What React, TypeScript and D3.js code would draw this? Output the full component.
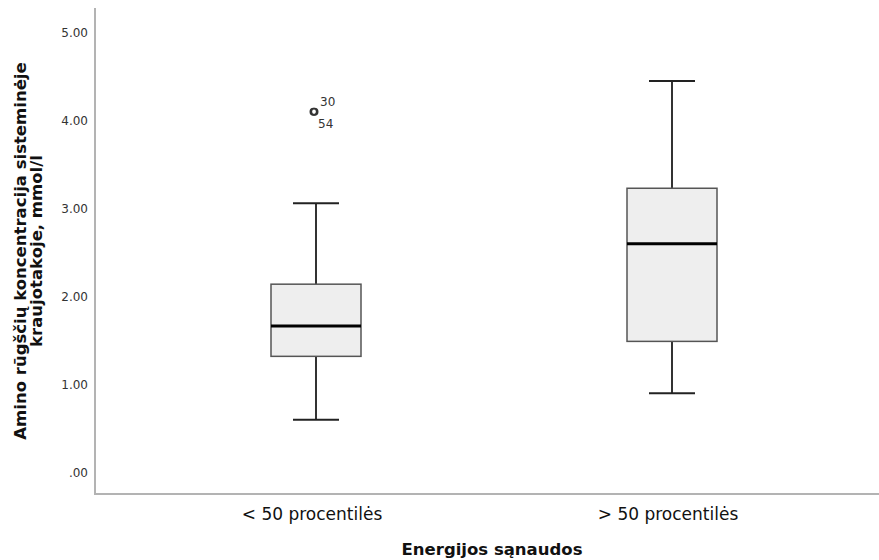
import React from "react";
import * as d3 from "d3";

const categories = ["< 50 procentilės", "> 50 procentilės"];
const whiskerLow = [0.6, 0.9];
const q1 = [1.32, 1.49];
const median = [1.665, 2.6];
const q3 = [2.14, 3.23];
const whiskerHigh = [3.06, 4.45];
const outlierValues = [4.1];
const outlierGroup = [0];
const outlierLabels = [["30", "54"]];
const yTicks = [0, 1, 2, 3, 4, 5];

const W = 879;
const H = 560;
const font = "'DejaVu Sans', Verdana, sans-serif";

export default function App() {
  const y = d3.scaleLinear().domain([0, 5]).range([472.5, 32.5]);
  const x = d3.scalePoint<string>().domain(categories).range([138, 850]).padding(0.5);
  const boxW = 90;
  const capW = 46;
  const axisX = 95;
  const axisBottom = 494;
  const fmt = (v: number) => (v === 0 ? ".00" : d3.format(".2f")(v));
  return (
    <svg width={W} height={H} style={{ position: "absolute", left: 0, top: 0 }}>
      <rect width={W} height={H} fill="#fff" />
      <line x1={axisX} x2={axisX} y1={8} y2={axisBottom} stroke="#b3b3b3" strokeWidth={2} />
      <line x1={axisX - 1} x2={W} y1={axisBottom} y2={axisBottom} stroke="#b3b3b3" strokeWidth={2} />
      {yTicks.map((t) => (
        <text key={t} x={88} y={y(t)} textAnchor="end" dominantBaseline="central" fontFamily={font} fontSize={12} fill="#333">
          {fmt(t)}
        </text>
      ))}
      {categories.map((c, i) => {
        const cx = x(c) as number;
        return (
          <g key={c}>
            <line x1={cx} x2={cx} y1={y(whiskerHigh[i])} y2={y(q3[i])} stroke="#333" strokeWidth={2} />
            <line x1={cx} x2={cx} y1={y(q1[i])} y2={y(whiskerLow[i])} stroke="#333" strokeWidth={2} />
            <line x1={cx - capW / 2} x2={cx + capW / 2} y1={y(whiskerHigh[i])} y2={y(whiskerHigh[i])} stroke="#222" strokeWidth={2} />
            <line x1={cx - capW / 2} x2={cx + capW / 2} y1={y(whiskerLow[i])} y2={y(whiskerLow[i])} stroke="#222" strokeWidth={2} />
            <rect x={cx - boxW / 2} y={y(q3[i])} width={boxW} height={y(q1[i]) - y(q3[i])} fill="#eeeeee" stroke="#555" strokeWidth={1.5} />
            <line x1={cx - boxW / 2} x2={cx + boxW / 2} y1={y(median[i])} y2={y(median[i])} stroke="#000" strokeWidth={3} />
            <text x={cx - 4} y={520} textAnchor="middle" fontFamily={font} fontSize={17} fill="#111">
              {c}
            </text>
          </g>
        );
      })}
      {outlierValues.map((v, k) => {
        const cx = (x(categories[outlierGroup[k]]) as number) - 2;
        const cy = y(v);
        return (
          <g key={k}>
            <circle cx={cx - 0.5} cy={cy} r={3.2} fill="none" stroke="#333" strokeWidth={1.6} />
            <circle cx={cx + 0.5} cy={cy} r={3.2} fill="none" stroke="#333" strokeWidth={1.6} />
            <text x={cx + 6} y={cy - 6} fontFamily={font} fontSize={12} fill="#333">{outlierLabels[k][0]}</text>
            <text x={cx + 4} y={cy + 16} fontFamily={font} fontSize={12} fill="#333">{outlierLabels[k][1]}</text>
          </g>
        );
      })}
      <text x={492} y={555} textAnchor="middle" fontFamily={font} fontSize={16.5} fontWeight="bold" fill="#111">
        Energijos sąnaudos
      </text>
      <g transform="translate(0,251) rotate(-90)">
        <text x={0} y={26} textAnchor="middle" fontFamily={font} fontSize={16.5} fontWeight="bold" fill="#111">
          Amino rūgščių koncentracija sisteminėje
        </text>
        <text x={0} y={42} textAnchor="middle" fontFamily={font} fontSize={16.5} fontWeight="bold" fill="#111">
          kraujotakoje, mmol/l
        </text>
      </g>
    </svg>
  );
}
